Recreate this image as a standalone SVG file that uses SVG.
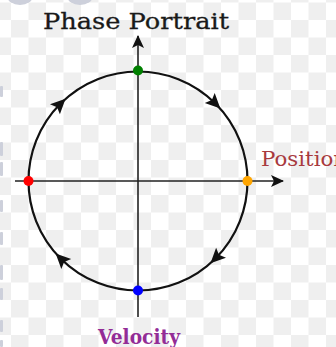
<svg xmlns="http://www.w3.org/2000/svg" width="336" height="347" viewBox="0 0 336 347">
<defs>
<pattern id="checker" patternUnits="userSpaceOnUse" x="11" y="20" width="35" height="35">
<rect x="0" y="0" width="35" height="35" fill="#ffffff"/>
<rect x="0" y="0" width="17.5" height="17.5" fill="#efefef"/>
<rect x="17.5" y="17.5" width="17.5" height="17.5" fill="#efefef"/>
</pattern>
<marker id="axisHead" viewBox="0 0 13 12" refX="12" refY="6" markerWidth="13" markerHeight="12" markerUnits="userSpaceOnUse" orient="auto">
<path d="M0,0 L13,6 L0,12 L3,6 Z" fill="#111"/>
</marker>
<path id="flowHead" d="M7,0 L-8,-7 L-5,0 L-8,7 Z" fill="#111"/>
</defs>
<style>
.axis{stroke:#222;stroke-width:1.6;fill:none}
.orbit{stroke:#111;stroke-width:2.2;fill:none}
.title{font-family:"DejaVu Serif","Liberation Serif",serif;font-size:23px;fill:#1a1a1a;stroke:#1a1a1a;stroke-width:0.3}
.lbl{font-family:"DejaVu Serif","Liberation Serif",serif;font-size:20px}
.bg{fill:#cdd0db}
</style>
<rect width="336" height="347" fill="url(#checker)"/>
<g id="background-edge">
<ellipse class="bg" cx="20" cy="-4" rx="13" ry="9"/>
<ellipse class="bg" cx="80" cy="-4" rx="13" ry="9"/>
<rect class="bg" x="0" y="86" width="3" height="11" rx="1"/>
<rect class="bg" x="0" y="142" width="3" height="14" rx="1"/>
<rect class="bg" x="0" y="162" width="3" height="14" rx="1"/>
<rect class="bg" x="0" y="200" width="3" height="12" rx="1"/>
<rect class="bg" x="0" y="232" width="3" height="13" rx="1"/>
<rect class="bg" x="0" y="265" width="3" height="15" rx="1"/>
<rect class="bg" x="0" y="288" width="3" height="12" rx="1"/>
<rect class="bg" x="0" y="320" width="3" height="12" rx="1"/>
<rect class="bg" x="0" y="340" width="3" height="7" rx="1"/>
</g>
<g id="connectors">
<line class="axis" x1="15" y1="181" x2="283" y2="181" marker-end="url(#axisHead)"/>
<line class="axis" x1="138" y1="317" x2="138" y2="36" marker-end="url(#axisHead)"/>
<circle id="orbit" class="orbit" cx="138" cy="181" r="109.5"/>
<use href="#flowHead" transform="translate(60.6,103.6) rotate(-45)"/>
<use href="#flowHead" transform="translate(215.4,103.6) rotate(45)"/>
<use href="#flowHead" transform="translate(215.4,258.4) rotate(135)"/>
<use href="#flowHead" transform="translate(60.6,258.4) rotate(-135)"/>
</g>
<g id="title"><text class="title" x="43" y="29" textLength="186" lengthAdjust="spacingAndGlyphs">Phase Portrait</text></g>
<g id="position-label"><text class="lbl" x="261" y="166" fill="#a83a3e" textLength="86" lengthAdjust="spacingAndGlyphs">Position</text></g>
<g id="velocity-label"><text class="lbl" x="98" y="344" fill="#932c96" font-weight="bold" textLength="82" lengthAdjust="spacingAndGlyphs">Velocity</text></g>
<g id="point-top"><circle cx="138" cy="70.5" r="5" fill="#008000"/></g>
<g id="point-right"><circle cx="247.5" cy="181" r="5" fill="#ffa500"/></g>
<g id="point-bottom"><circle cx="138" cy="290.5" r="5" fill="#0000ff"/></g>
<g id="point-left"><circle cx="28.5" cy="181" r="5" fill="#ff0000"/></g>
</svg>
